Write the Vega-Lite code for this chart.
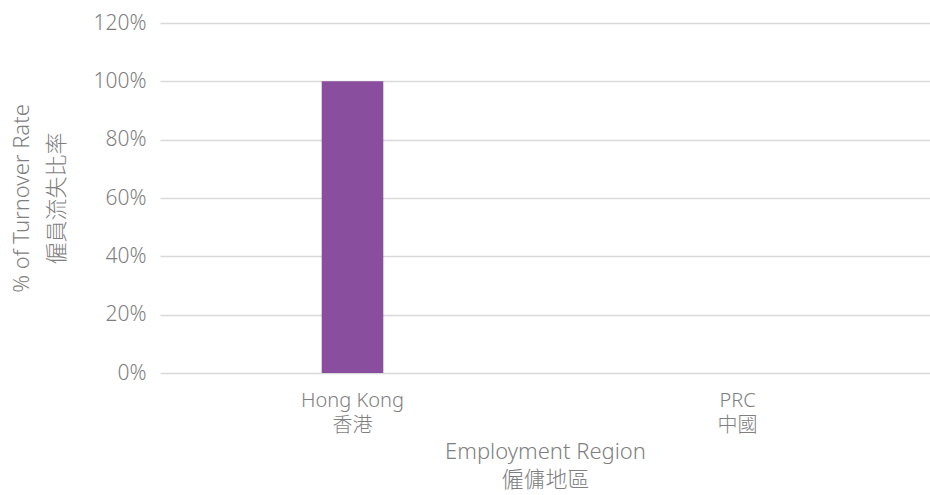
{
  "$schema": "https://vega.github.io/schema/vega-lite/v6.json",
  "autosize": "none",
  "width": 770,
  "height": 350,
  "padding": {"left": 160, "top": 23, "right": 0, "bottom": 122},
  "background": "white",
  "config": {
    "font": "Noto Sans, Noto Sans CJK TC",
    "view": {"stroke": null},
    "axis": {
      "labelColor": "#7f7f7f",
      "titleColor": "#7f7f7f",
      "labelFont": "Noto Sans, Noto Sans CJK TC",
      "titleFont": "Noto Sans, Noto Sans CJK TC",
      "labelFontWeight": 300,
      "titleFontWeight": 300,
      "domain": false,
      "ticks": false
    }
  },
  "data": {
    "values": [
      {"region": "Hong Kong", "rate": 1.0},
      {"region": "PRC", "rate": 0.0}
    ]
  },
  "mark": {"type": "bar", "color": "#8a4e9e", "width": {"band": 0.16}},
  "encoding": {
    "x": {
      "field": "region",
      "type": "nominal",
      "sort": null,
      "scale": {"paddingInner": 0, "paddingOuter": 0},
      "axis": {
        "title": ["Employment Region", "僱傭地區"],
        "titleFontSize": 22,
        "titleLineHeight": 28,
        "titlePadding": 6,
        "labelAngle": 0,
        "labelFontSize": 20,
        "labelLineHeight": 25,
        "labelPadding": 17,
        "labelExpr": "datum.label == 'Hong Kong' ? ['Hong Kong', '香港'] : ['PRC', '中國']",
        "grid": false
      }
    },
    "y": {
      "field": "rate",
      "type": "quantitative",
      "scale": {"domain": [0, 1.2]},
      "axis": {
        "values": [0, 0.2, 0.4, 0.6, 0.8, 1.0, 1.2],
        "format": ".0%",
        "title": ["% of Turnover Rate", "僱員流失比率"],
        "titleFontSize": 22,
        "titleLineHeight": 35,
        "titlePadding": 24,
        "labelFontSize": 21,
        "labelPadding": 14,
        "gridColor": "#d9d9d9",
        "gridWidth": 1.5
      }
    }
  }
}
